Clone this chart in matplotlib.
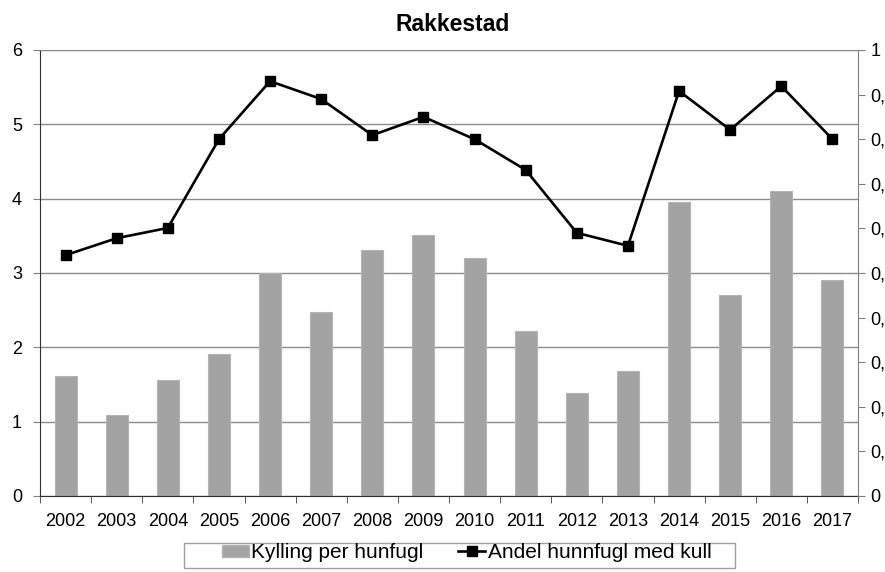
import numpy as np
import matplotlib.pyplot as plt
from matplotlib.lines import Line2D
from matplotlib.patches import Patch, Rectangle

plt.rcParams['font.family'] = ['Liberation Sans', 'DejaVu Sans']

years = [str(y) for y in range(2002, 2018)]
kylling = [1.61, 1.09, 1.56, 1.91, 3.00, 2.48, 3.31, 3.51, 3.20, 2.22, 1.39, 1.68, 3.96, 2.70, 4.10, 2.91]
andel = [0.540, 0.578, 0.601, 0.800, 0.930, 0.890, 0.809, 0.850, 0.800, 0.731, 0.590, 0.561, 0.908, 0.821, 0.919, 0.800]
left_ticks = [0, 1, 2, 3, 4, 5, 6]
right_ticks = [0, 0.1, 0.2, 0.3, 0.4, 0.5, 0.6, 0.7, 0.8, 0.9, 1]

fig = plt.figure(figsize=(8.85, 5.72), dpi=100)
ax = fig.add_axes([0.0452, 0.1329, 0.9243, 0.7797])
ax2 = ax.twinx()

x = np.arange(len(years))
ax.bar(x, kylling, width=0.43, color='#a3a3a3', edgecolor='#b4b4b4', linewidth=0.8, zorder=2)
ax.set_xlim(-0.5, len(years) - 0.5)
ax.set_ylim(0, 6)
ax.set_yticks(left_ticks)
ax.set_yticklabels([str(t) for t in left_ticks], fontsize=13)
ax.yaxis.grid(True, color='#8c8c8c', linewidth=1.0, zorder=0)
ax.set_axisbelow(True)
ax.set_xticks(x)
ax.set_xticklabels(years, fontsize=13)
ax.set_xticks(np.arange(-0.5, len(years)), minor=True)
ax.tick_params(axis='x', which='major', length=0, pad=12)
ax.tick_params(axis='x', which='minor', length=5, color='#404040')
ax.tick_params(axis='y', length=5, color='#808080', pad=8)

ax.spines['left'].set_color('#303030')
ax.spines['bottom'].set_color('#303030')
ax.spines['top'].set_color('#8c8c8c')
ax.spines['right'].set_visible(False)

ax2.plot(x, andel, color='black', linewidth=1.9, marker='s', markersize=6.5, zorder=3)
ax2.set_ylim(0, 1)
ax2.set_yticks(right_ticks)
ax2.set_yticklabels(['0' if t == 0 else ('1' if t == 1 else f"{t:.1f}".replace('.', ',')) for t in right_ticks], fontsize=13)
ax2.tick_params(axis='y', length=5, color='#808080', pad=4)
ax2.spines['right'].set_color('#808080')
for s in ['left', 'top', 'bottom']:
    ax2.spines[s].set_visible(False)

fig.suptitle('Rakkestad', fontsize=16.5, fontweight='bold', x=0.512, y=0.978)

# legend entries without a frame, the box is drawn separately
handles = [Patch(facecolor='#a3a3a3', edgecolor='#b4b4b4'),
           Line2D([0], [0], color='black', linewidth=1.9, marker='s', markersize=6.5)]
leg = fig.legend(handles, ['Kylling per hunfugl', 'Andel hunnfugl med kull'],
                 loc='center', bbox_to_anchor=(0.527, 0.034), ncol=2, fontsize=15,
                 frameon=False, handlelength=1.3, handleheight=0.5,
                 handletextpad=0.1, columnspacing=1.7, borderpad=0.0)
fig.patches.append(Rectangle((184 / 885, 4 / 572), 551 / 885, 25 / 572,
                             transform=fig.transFigure, fill=False,
                             edgecolor='#a0a0a0', linewidth=1.0))

fig.savefig('out.png', dpi=100)
